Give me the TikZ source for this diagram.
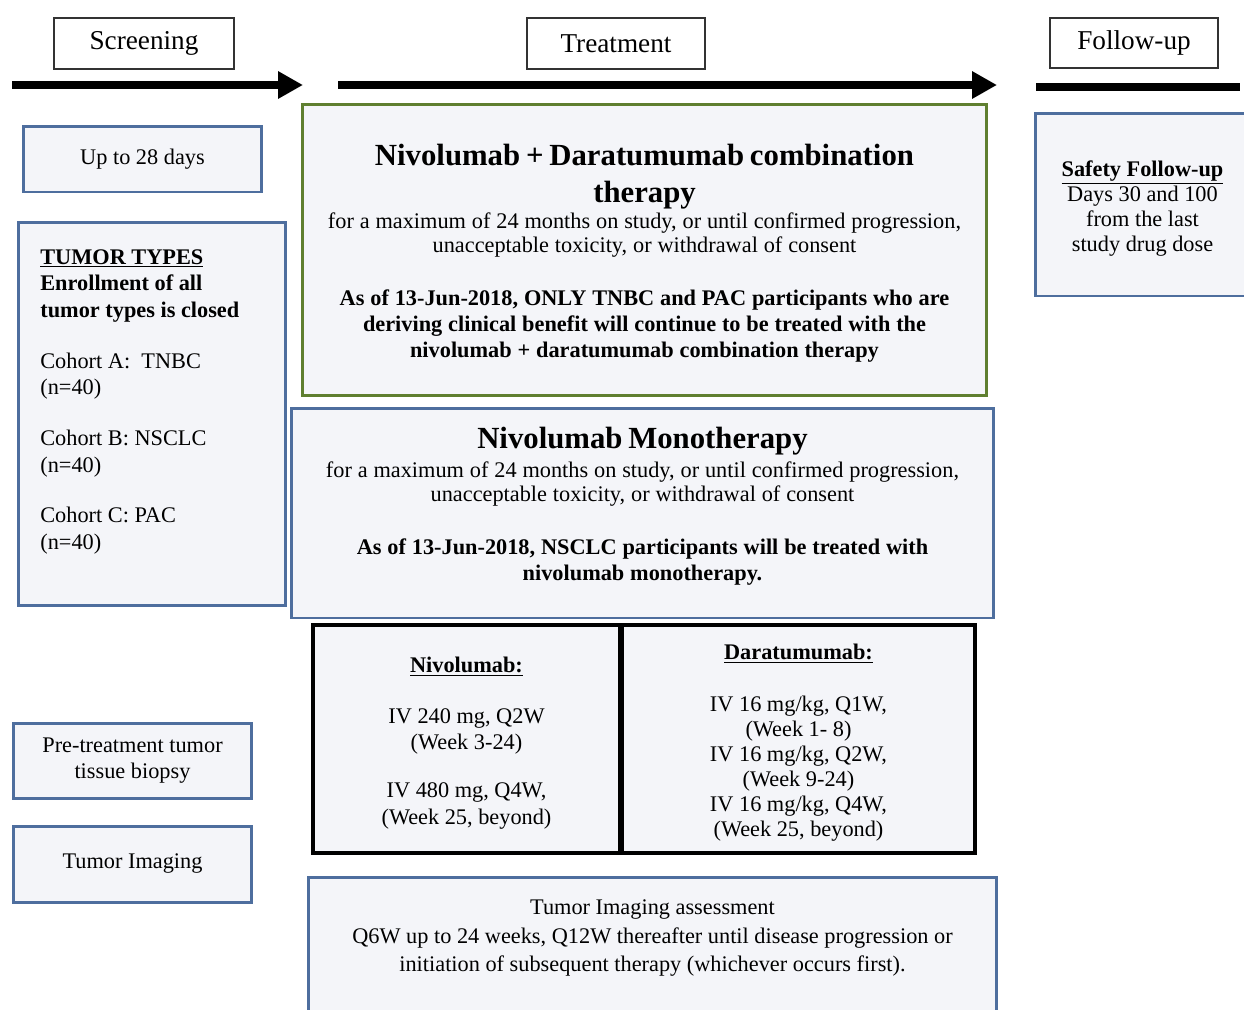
\documentclass[tikz,border=0pt]{standalone}
\usepackage{fontspec}
\setmainfont{Liberation Serif}
\usetikzlibrary{positioning,arrows.meta}

\definecolor{boxblue}{HTML}{4E6E9E}
\definecolor{boxgreen}{HTML}{5F7F30}
\definecolor{boxfill}{HTML}{F4F5F9}

\newcommand{\nvtitle}{\fontsize{17.5}{20.5}\selectfont\bfseries}
\newcommand{\nvbody}{\fontsize{12.7}{13.7}\selectfont}
\newcommand{\nvbold}{\fontsize{12.7}{14.8}\selectfont\bfseries}

\tikzset{
  hdr/.style={draw=black!80, fill=white, line width=1.1pt, inner sep=0pt, font=\fontsize{15.5}{18}\selectfont},
  bluebox/.style={draw=boxblue, fill=boxfill, line width=1.7pt, inner sep=0pt, align=center},
  greenbox/.style={bluebox, draw=boxgreen},
  dosebox/.style={bluebox, draw=black, line width=2pt},
  phase/.style={line width=5pt, -{Triangle[length=0.5cm,width=0.52cm]}}
}

\begin{document}
\begin{tikzpicture}[x=0.02cm, y=-0.02cm]
  \fill[white] (0,0) rectangle (1244,1009);
  \useasboundingbox (0,0) rectangle (1244,1009);

  % Phase headers
  \node[hdr, minimum width=3.6cm, minimum height=1.02cm] (scr) at (144,43.5) {Screening};
  \node[hdr, minimum width=3.56cm, minimum height=1.02cm] (trt) at (616,43.5) {Treatment};
  \node[hdr, minimum width=3.36cm, minimum height=1.0cm] (fol) at (1134,43) {Follow-up};

  % Time line
  \coordinate (s0) at (12,85);   \coordinate (s1) at (303,85);
  \coordinate (t0) at (338,85);  \coordinate (t1) at (997,85);
  \coordinate (f0) at (1036,87); \coordinate (f1) at (1240,87);
  \draw[phase] (s0) -- (s1);
  \draw[phase] (t0) -- (t1);
  \draw[line width=5pt] (f0) -- (f1);

  % Screening column
  \node[bluebox, minimum width=4.78cm, minimum height=1.32cm, font=\nvbody] (days) at (142.5,159) {Up to 28 days};
  \node[bluebox, minimum width=5.36cm, minimum height=7.68cm] (types) at (152,414) {};
  \node[anchor=north west, align=left, inner sep=0pt, font=\fontsize{12.7}{15.2}\selectfont] (typestxt) at (40,249)
    {\underline{\textbf{TUMOR TYPES}}\\ \textbf{Enrollment of all}\\ \textbf{tumor types is closed}\\[13.6pt]
     Cohort A:\ \ TNBC\\ (n=40)\\[13.6pt]
     Cohort B: NSCLC\\ (n=40)\\[13.6pt]
     Cohort C: PAC\\ (n=40)};
  \node[bluebox, minimum width=4.78cm, minimum height=1.5cm, font=\fontsize{12.7}{14.8}\selectfont] (biopsy) at (132.5,760.5)
    {Pre-treatment tumor\\ tissue biopsy};
  \node[bluebox, minimum width=4.78cm, minimum height=1.52cm, font=\nvbody] (imag) at (132.5,864) {Tumor Imaging};

  % Treatment column
  \node[greenbox, minimum width=13.7cm, minimum height=5.84cm, text width=13.2cm] (combo) at (644.5,250)
    {{\nvtitle \rule{0pt}{15.9pt}Nivolumab + Daratumumab combination\\ therapy\par}
     \vspace{1.5pt}
     {\nvbody for a maximum of 24 months on study, or until confirmed progression,\\ unacceptable toxicity, or withdrawal of consent\par}
     \vspace{15pt}
     {\nvbold As of 13-Jun-2018, ONLY TNBC and PAC participants who are\\ deriving clinical benefit will continue to be treated with the\\ nivolumab + daratumumab combination therapy\par}};
  \node[bluebox, minimum width=14.06cm, minimum height=4.2cm, text width=13.5cm] (mono) at (642.5,513)
    {{\nvtitle Nivolumab Monotherapy\par}
     \vspace{3pt}
     {\nvbody for a maximum of 24 months on study, or until confirmed progression,\\ unacceptable toxicity, or withdrawal of consent\par}
     \vspace{15pt}
     {\nvbold As of 13-Jun-2018, NSCLC participants will be treated with\\ nivolumab monotherapy.\rule[-10.8pt]{0pt}{1pt}\par}};
  \node[dosebox, minimum width=6.14cm, minimum height=4.56cm, font=\fontsize{12.7}{15}\selectfont] (nivo) at (466.5,739)
    {\rule{0pt}{13.3pt}\underline{\textbf{Nivolumab:}}\\[14pt] IV 240 mg, Q2W\\ (Week 3-24)\\[12.3pt] IV 480 mg, Q4W,\\ (Week 25, beyond)};
  \node[dosebox, minimum width=7.06cm, minimum height=4.56cm, font=\fontsize{12.7}{14.2}\selectfont] (dara) at (798.5,739)
    {\rule{0pt}{12.7pt}\underline{\textbf{Daratumumab:}}\\[15.4pt] IV 16 mg/kg, Q1W,\\ (Week 1- 8)\\ IV 16 mg/kg, Q2W,\\ (Week 9-24)\\ IV 16 mg/kg, Q4W,\\ (Week 25, beyond)};
  \node[bluebox, minimum width=13.78cm, minimum height=2.76cm] (assess) at (652.5,946) {};
  \node[align=center, inner sep=0pt, font=\fontsize{12.7}{16.2}\selectfont] (assesstxt) at (652.5,938)
    {Tumor Imaging assessment\\ Q6W up to 24 weeks, Q12W thereafter until disease progression or\\ initiation of subsequent therapy (whichever occurs first).};

  % Follow-up column
  \node[bluebox, minimum width=4.3cm, minimum height=3.66cm, font=\fontsize{12.7}{14.2}\selectfont] (safe) at (1142.5,204.5)
    {\rule{0pt}{13.3pt}\underline{\textbf{Safety Follow-up}}\\ Days 30 and 100\\ from the last\\ study drug dose};
\end{tikzpicture}
\end{document}
